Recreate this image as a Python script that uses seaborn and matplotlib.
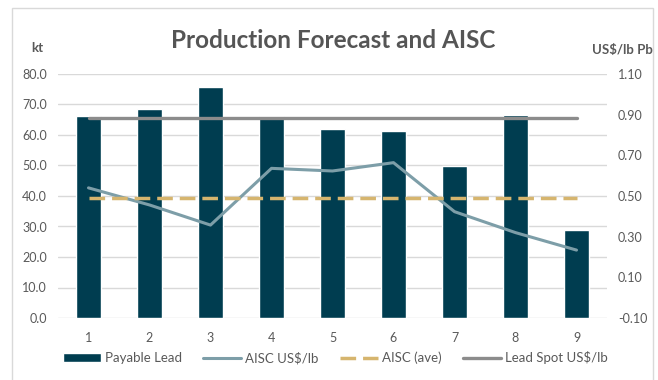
import numpy as np
import pandas as pd
import matplotlib
matplotlib.use("Agg")
import matplotlib.pyplot as plt
import seaborn as sns
from matplotlib.patches import Rectangle
from matplotlib.ticker import FormatStrFormatter

# data
periods = ["1", "2", "3", "4", "5", "6", "7", "8", "9"]
payable_lead = [66.2, 68.5, 75.8, 66.2, 61.9, 61.3, 49.9, 66.6, 28.7]      # kt
aisc = [0.54, 0.456, 0.357, 0.636, 0.623, 0.664, 0.423, 0.32, 0.234]     # US$/lb
aisc_ave = [0.49] * 9
lead_spot = [0.882] * 9

sns.set_theme(style="white")
plt.rcParams["font.family"] = ["Lato", "DejaVu Sans"]
txt = "#595959"

df = pd.DataFrame({"period": periods, "lead": payable_lead, "aisc": aisc,
                   "ave": aisc_ave, "spot": lead_spot})
df["pos"] = np.arange(len(periods))

fig = plt.figure(figsize=(6.58, 3.80), dpi=100)
ax = fig.add_axes([58 / 658, 1 - 318 / 380, 549 / 658, 244 / 380])

sns.barplot(data=df, x="period", y="lead", color="#003d50", saturation=1,
            width=0.4, ax=ax, label="Payable Lead")
ax.set_ylim(0, 80)
ax.set_yticks(np.arange(0, 81, 10))
ax.yaxis.set_major_formatter(FormatStrFormatter("%.1f"))
ax.set_xlim(-0.5, 8.5)
ax.grid(axis="y", color="#d9d9d9", lw=1)
ax.set_axisbelow(True)
ax.set_xlabel("")
ax.set_ylabel("")

ax2 = ax.twinx()
sns.lineplot(data=df, x="pos", y="aisc", color="#7d9ea8", lw=2.2, ax=ax2,
             label="AISC US$/lb")
sns.lineplot(data=df, x="pos", y="ave", color="#d6b56e", lw=2.5, ax=ax2,
             linestyle=(0, (4.5, 2)), label="AISC (ave)")
sns.lineplot(data=df, x="pos", y="spot", color="#8c8c8c", lw=2.4, ax=ax2,
             label="Lead Spot US$/lb")
ax2.set_ylim(-0.10, 1.10)
ax2.set_yticks(np.arange(-0.10, 1.11, 0.2))
ax2.yaxis.set_major_formatter(FormatStrFormatter("%.2f"))
ax2.set_xlim(-0.5, 8.5)
ax2.set_ylabel("")
ax2.grid(False)

for a in (ax, ax2):
    for s in a.spines.values():
        s.set_visible(False)
    a.tick_params(length=0, labelsize=9, labelcolor=txt)
ax.tick_params(axis="x", pad=10)
ax.tick_params(axis="y", pad=8)
ax2.tick_params(axis="y", pad=8)

h1, l1 = ax.get_legend_handles_labels()
h2, l2 = ax2.get_legend_handles_labels()
if ax.get_legend():
    ax.get_legend().remove()
ax2.get_legend().remove()
fig.legend(h1 + h2, l1 + l2, loc="center", bbox_to_anchor=(335 / 658, 1 - 358 / 380),
           ncol=4, frameon=False, fontsize=9.5, labelcolor=txt,
           handlelength=2.9, handleheight=0.65, handletextpad=0.3,
           columnspacing=1.6)

fig.text(333 / 658, 1 - 40 / 380, "Production Forecast and AISC",
         ha="center", va="center", fontsize=17.5, fontweight="bold", color="#555555")
fig.text(37 / 658, 1 - 48 / 380, "kt", ha="center", va="center",
         fontsize=9.5, fontweight="bold", color=txt)
fig.text(622 / 658, 1 - 50 / 380, "US$/lb Pb", ha="center", va="center",
         fontsize=9.5, fontweight="bold", color=txt)

fig.patches.append(Rectangle((12 / 658, -0.05), 641 / 658, 1.05 - 8 / 380,
                             transform=fig.transFigure, fill=False,
                             ec="#d9d9d9", lw=1))

fig.savefig("out.png", dpi=100)
